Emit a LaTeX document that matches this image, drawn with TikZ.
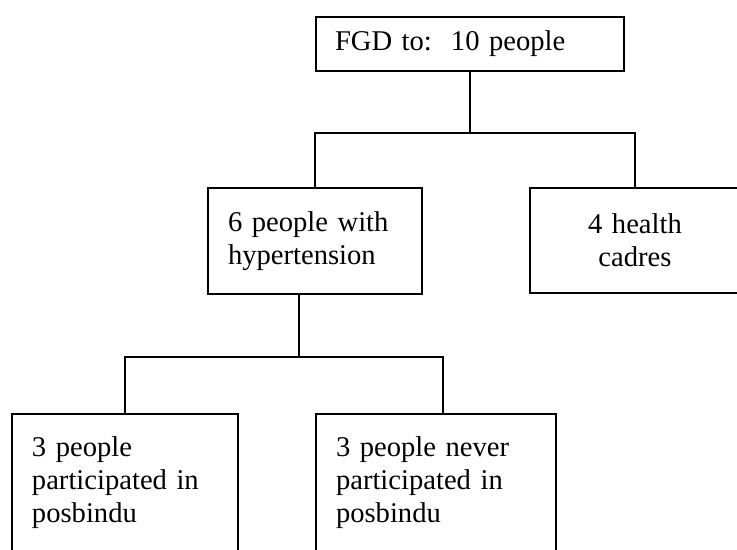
\documentclass[tikz,border=0pt]{standalone}
\usepackage{fontspec}
\setmainfont{Liberation Serif}
\tikzset{
  grpbox/.style={draw,rectangle,align=left,inner xsep=10pt,inner ysep=2pt},
}
\begin{document}
\begin{tikzpicture}[x=0.5pt,y=-0.5pt,font=\fontsize{14.3}{16.5}\selectfont,line width=0.6pt]
                \path[use as bounding box,clip] (0,0) rectangle (737,550);
                \node[grpbox,inner xsep=9.5pt,minimum width=154pt,minimum height=27pt,text width=135pt] (fgd) at (470,44) {FGD to:\ \ 10 people};
                \node[grpbox,minimum width=107pt,minimum height=53pt,text width=87pt] (hyp) at (315,241) {6 people with\\hypertension};
                \node[grpbox,align=center,minimum width=105pt,minimum height=52.5pt,text width=85pt] (cadres) at (635,240.5) {4 health\\cadres};
                \node[grpbox,minimum width=113pt,minimum height=69pt,text width=93pt] (joined) at (125,483) {3 people\\participated in\\posbindu};
                \node[grpbox,minimum width=120pt,minimum height=69pt,text width=100pt] (never) at (436,483) {3 people never\\participated in\\posbindu};
                \coordinate (bus1) at (0,133);
                \coordinate (bus2) at (443,357);
                \draw (fgd.south) -- (fgd.south |- bus1);
                \draw (hyp.north) |- (bus1 -| cadres.north) -- (cadres.north);
                \draw ([xshift=-8pt]hyp.south) -- ([xshift=-8pt]hyp.south |- bus2);
                \draw (joined.north) |- (bus2) -- (bus2 |- never.north);
            \end{tikzpicture}
\end{document}
